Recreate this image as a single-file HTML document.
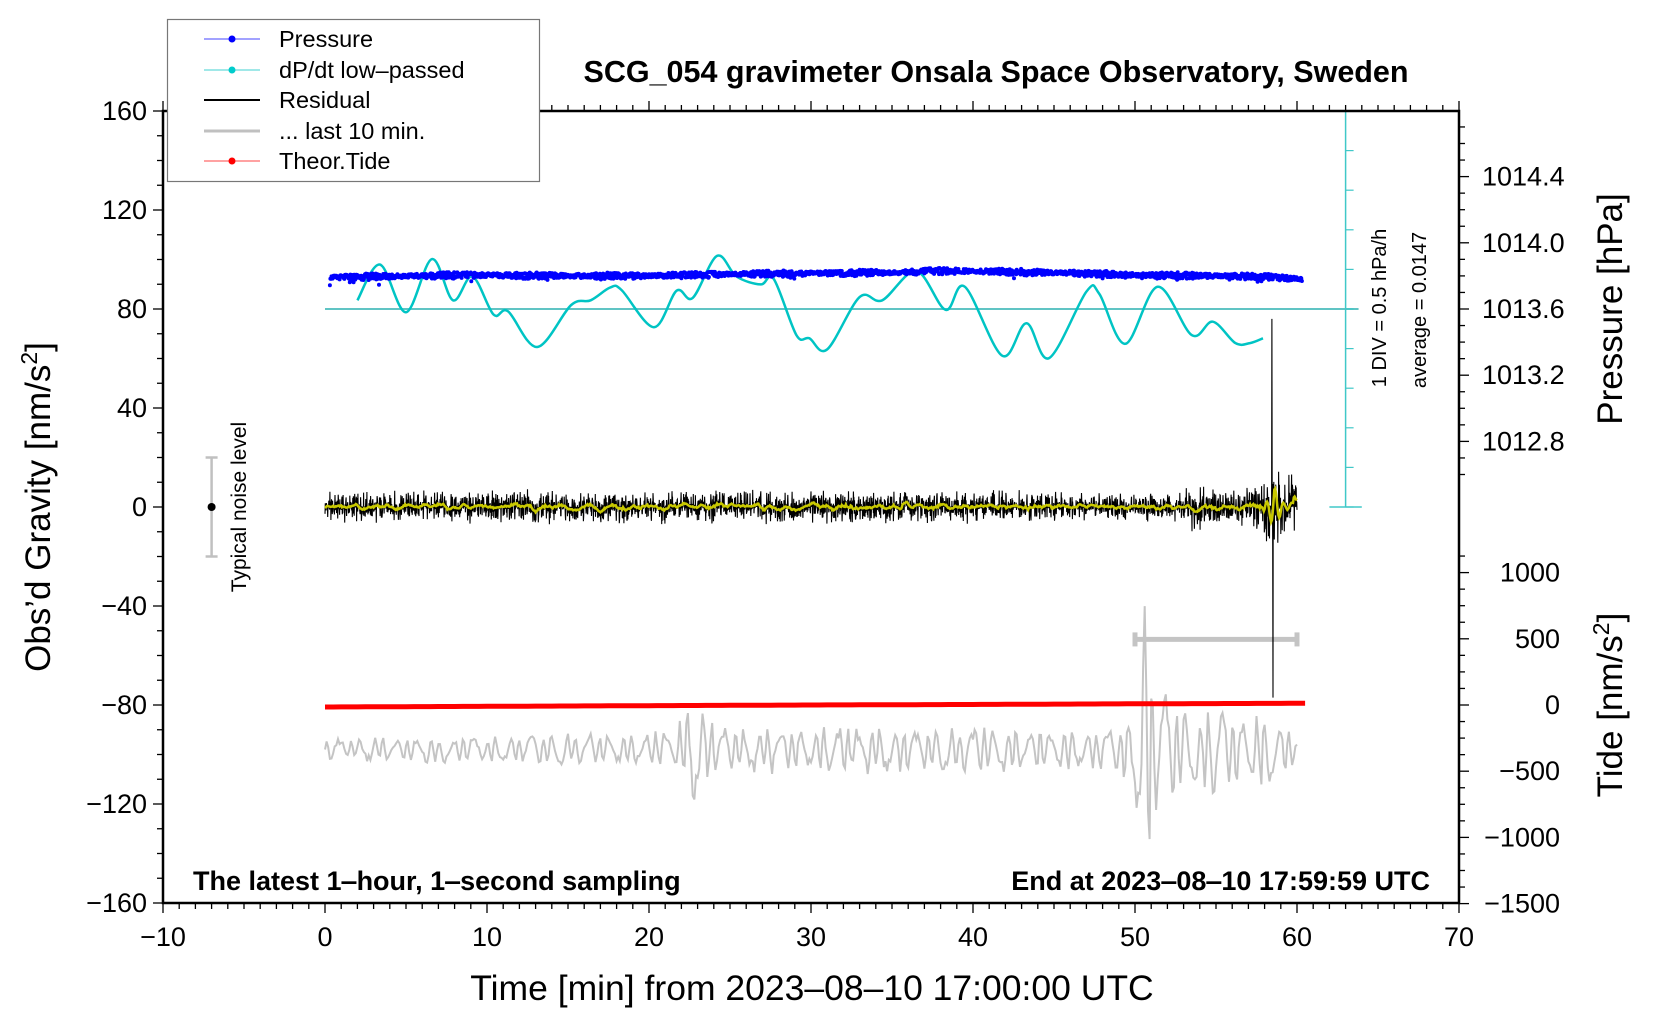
<!DOCTYPE html>
<html><head><meta charset="utf-8"><style>
html,body{margin:0;padding:0;background:#fff;}
svg{display:block;font-family:"Liberation Sans",Arial,sans-serif;}
</style></head><body>
<svg id="chart" width="1660" height="1020" viewBox="0 0 1660 1020" xmlns="http://www.w3.org/2000/svg">
<g id="data-layer"></g>
<g id="axes-layer"></g>
<text x="996" y="82" font-size="30.5" font-weight="bold" text-anchor="middle">SCG_054 gravimeter Onsala Space Observatory, Sweden</text>
<text x="193" y="890" font-size="27" font-weight="bold">The latest 1‒hour, 1‒second sampling</text>
<text x="1430" y="890" font-size="27" font-weight="bold" text-anchor="end">End at 2023‒08‒10 17:59:59 UTC</text>
<text x="812" y="1000" font-size="35.5" text-anchor="middle">Time [min] from 2023‒08‒10 17:00:00 UTC</text>
<text transform="translate(50,507) rotate(-90)" font-size="35" text-anchor="middle">Obs’d Gravity [nm/s<tspan font-size="23" dy="-13">2</tspan><tspan dy="13">]</tspan></text>
<text transform="translate(1622,309) rotate(-90)" font-size="35" text-anchor="middle">Pressure [hPa]</text>
<text transform="translate(1622,705) rotate(-90)" font-size="35" text-anchor="middle">Tide [nm/s<tspan font-size="23" dy="-13">2</tspan><tspan dy="13">]</tspan></text>
<text transform="translate(246,507) rotate(-90)" font-size="21" text-anchor="middle">Typical noise level</text>
<text transform="translate(1386,308) rotate(-90)" font-size="20" text-anchor="middle">1 DIV = 0.5 hPa/h</text>
<text transform="translate(1426,310) rotate(-90)" font-size="20" text-anchor="middle">average = 0.0147</text>
<g>
<rect x="167.5" y="19.5" width="372" height="162" fill="#fff" stroke="#777" stroke-width="1.2"/>
<g><line x1="204" y1="39" x2="260" y2="39" stroke="#4444ff" stroke-width="1"/><circle cx="232" cy="39" r="3.5" fill="#0000ff"/><text x="279" y="47" font-size="23.5">Pressure</text></g>
<g><line x1="204" y1="70" x2="260" y2="70" stroke="#40d0d0" stroke-width="1"/><circle cx="232" cy="70" r="3.5" fill="#00cccc"/><text x="279" y="78" font-size="23.5">dP/dt low‒passed</text></g>
<g><line x1="204" y1="100" x2="260" y2="100" stroke="#000" stroke-width="2"/><text x="279" y="108" font-size="23.5">Residual</text></g>
<g><line x1="204" y1="131" x2="260" y2="131" stroke="#c0c0c0" stroke-width="3"/><text x="279" y="139" font-size="23.5">... last 10 min.</text></g>
<g><line x1="204" y1="161" x2="260" y2="161" stroke="#ff4444" stroke-width="1"/><circle cx="232" cy="161" r="3.5" fill="#ff0000"/><text x="279" y="169" font-size="23.5">Theor.Tide</text></g>
</g>
</svg>
<script>
// ---- data arrays ----
const xTicks = [-10,0,10,20,30,40,50,60,70];
const yTicks = [160,120,80,40,0,-40,-80,-120,-160];
const pTicks = [1014.4,1014.0,1013.6,1013.2,1012.8];
const tideTicks = [1000,500,0,-500,-1000,-1500];
const cyanT = [2.0,3.4,5.0,6.6,7.9,9.1,10.4,11.3,13.1,15.2,16.4,17.6,18.3,20.3,21.7,22.7,24.2,25.4,26.9,27.7,29.1,29.9,31.0,33.0,34.4,36.5,38.3,39.5,41.8,43.3,44.7,47.0,47.8,49.4,51.4,53.5,54.8,56.2,57.1,57.9];
const cyanV = [0.11,0.56,-0.04,0.63,0.11,0.41,-0.07,-0.03,-0.48,0.05,0.11,0.27,0.24,-0.23,0.23,0.14,0.67,0.41,0.31,0.38,-0.33,-0.37,-0.51,0.15,0.11,0.48,-0.01,0.28,-0.59,-0.18,-0.62,0.22,0.19,-0.44,0.28,-0.33,-0.16,-0.43,-0.43,-0.37];
const presT = [0.3,5,10,15,20,25,30,35,38,42,45,50,55,58,60.3];
const presV = [1013.790,1013.800,1013.805,1013.800,1013.800,1013.810,1013.815,1013.820,1013.830,1013.825,1013.820,1013.805,1013.800,1013.795,1013.780];
const resT = [0,10,20,30,40,50,53,53.8,54.3,55,56,57,58,58.4,58.7,59.2,60];
const resAmp = [7,7.5,7.5,7.5,7.5,6,7,16,12,9,8,9,14,22,18,15,12];
const spikeT = [58.45,58.52];
const spikeV = [76,-77];
const grayT = [0,10,20,22,23,24,26,30,40,47,49,50.2,50.7,51.3,52.5,54,55.5,56.5,57.5,58.5,59.5,60];
const grayAmp = [5,6,7,12,24,12,10,10,10,9,12,30,80,30,24,14,26,14,18,17,10,6];
const tideT = [0,10,20,30,40,50,60.5];
const tideV = [-15,-10,-5,0,4,9,13];

// ---- axis functions ----
const X0=163,X1=1459,Y0=111,Y1=903;
const xs = t => X0 + (t+10)*(X1-X0)/80;
const ys = g => Y0 + (160-g)*(Y1-Y0)/320;
const yp = p => 309 - (p-1013.6)*165.5;
const yt = v => 705 - v*0.1324;
const ydp = v => ys(80 + v*32);
const NS='http://www.w3.org/2000/svg';
function interp(T,V,t){ if(t<=T[0])return V[0]; for(let i=1;i<T.length;i++){ if(t<=T[i]){const f=(t-T[i-1])/(T[i]-T[i-1]);return V[i-1]+f*(V[i]-V[i-1]);} } return V[V.length-1]; }
function noise(i,s){ const v=Math.sin(i*12.9898+s*78.233)*43758.5453; return (v-Math.floor(v))*2-1; } // texture only
function mk(tag,attrs,parent){ const e=document.createElementNS(NS,tag); for(const k in attrs)e.setAttribute(k,attrs[k]); parent.appendChild(e); return e; }
const D=document.getElementById('data-layer'), A=document.getElementById('axes-layer');

let el;
el=mk('line',{x1:xs(0),y1:ys(80),x2:xs(63.8),y2:ys(80),stroke:'#60c4c4','stroke-width':2},D);


el=mk('g',{},D);


mk('line',{x1:xs(63),y1:ys(160),x2:xs(63),y2:ys(0),stroke:'#40c8c8','stroke-width':1.5},el);
for(let k=0;k<=10;k++){ mk('line',{x1:xs(63),y1:ys(k*16),x2:xs(63)+8,y2:ys(k*16),stroke:'#40c8c8','stroke-width':1.2},el); }
mk('line',{x1:xs(62),y1:ys(0),x2:xs(64),y2:ys(0),stroke:'#40c8c8','stroke-width':1.5},el);

// gray last-10-min
let gp=''; for(let i=0;i<=600;i++){ const t=i*0.1; const a=interp(grayT,grayAmp,t); const ph=Math.sin(i*0.9+Math.sin(i*0.37)*1.5); const v=-98+a*ph*(0.7+0.3*noise(i,3)); gp+=(i?'L':'M')+xs(t).toFixed(1)+' '+ys(v).toFixed(1); }
el=mk('path',{d:gp,fill:'none',stroke:'#c4c4c4','stroke-width':2},D);



el=mk('g',{stroke:'#c4c4c4','stroke-width':5},D);


mk('line',{x1:xs(50),y1:ys(-53.5),x2:xs(60),y2:ys(-53.5)},el);
mk('line',{x1:xs(50),y1:ys(-53.5)-7,x2:xs(50),y2:ys(-53.5)+7},el);
mk('line',{x1:xs(60),y1:ys(-53.5)-7,x2:xs(60),y2:ys(-53.5)+7},el);

// tide
let tp=''; for(let i=0;i<=121;i++){ const t=i*0.5; tp+=(i?'L':'M')+xs(t).toFixed(1)+' '+yt(interp(tideT,tideV,t)).toFixed(1); }
el=mk('path',{d:tp,fill:'none',stroke:'#ff0000','stroke-width':5},D);



// residual
const res=[]; let rp='';
for(let i=0;i<=3600;i++){ const t=i/60; const n=noise(i,1); let v=interp(resT,resAmp,t)*n*Math.abs(n)*(0.5+0.5*Math.abs(noise(i,2)));
 for(let k=0;k<spikeT.length;k++){ if(Math.abs(t-spikeT[k])<0.009) v=spikeV[k]; }
 res.push(v); rp+=(i?'L':'M')+xs(t).toFixed(1)+' '+ys(v).toFixed(1); }
el=mk('path',{d:rp,fill:'none',stroke:'#000','stroke-width':1.1},D);


let yp2=''; const W=12;
for(let i=0;i<=3600;i+=3){ let s=0,n=0; for(let j=Math.max(0,i-W);j<=Math.min(3600,i+W);j++){ if(Math.abs(res[j])<40){s+=res[j];n++;} } let v=s/n*1.3; const t=i/60; if(t>58&&t<59.8) v=0.3*v+9*Math.sin((t-58)*12)*Math.exp(-Math.abs(t-58.6)*2.5); yp2+=(i?'L':'M')+xs(t).toFixed(1)+' '+ys(v).toFixed(1); }
el=mk('path',{d:yp2,fill:'none',stroke:'#c8c800','stroke-width':2.5},D);



// cyan dP/dt
let cp='M'+xs(cyanT[0]).toFixed(1)+' '+ydp(cyanV[0]).toFixed(1);
for(let i=0;i<cyanT.length-1;i++){ const p0=[xs(cyanT[Math.max(0,i-1)]),ydp(cyanV[Math.max(0,i-1)])],p1=[xs(cyanT[i]),ydp(cyanV[i])],p2=[xs(cyanT[i+1]),ydp(cyanV[i+1])],p3=[xs(cyanT[Math.min(cyanT.length-1,i+2)]),ydp(cyanV[Math.min(cyanT.length-1,i+2)])];
 const c1=[p1[0]+(p2[0]-p0[0])/6,p1[1]+(p2[1]-p0[1])/6],c2=[p2[0]-(p3[0]-p1[0])/6,p2[1]-(p3[1]-p1[1])/6];
 cp+='C'+c1[0].toFixed(1)+' '+c1[1].toFixed(1)+' '+c2[0].toFixed(1)+' '+c2[1].toFixed(1)+' '+p2[0].toFixed(1)+' '+p2[1].toFixed(1); }
el=mk('path',{d:cp,fill:'none',stroke:'#00c4c4','stroke-width':2.5},D);



// pressure dots
const pg=mk('g',{fill:'#0000ff'},D);


let pp='';
for(let i=0;i<=1800;i++){ const t=0.3+i/30; const loc=0.5+0.5*Math.abs(Math.sin(i*0.021)); let v=interp(presT,presV,t)+0.02*loc*noise(i,5); if(noise(i,6)>0.93) v-=0.025*(t<10?2:1)*Math.abs(noise(i,7));
 const x=xs(t),y=yp(v); pp+='M'+(x-2).toFixed(1)+' '+y.toFixed(1)+'a2 2 0 1 0 4 0a2 2 0 1 0 -4 0'; }
el=mk('path',{d:pp},pg);



el=mk('g',{},D);


mk('line',{x1:xs(-7),y1:ys(20),x2:xs(-7),y2:ys(-20),stroke:'#c0c0c0','stroke-width':2.5},el);
mk('line',{x1:xs(-7)-6,y1:ys(20),x2:xs(-7)+6,y2:ys(20),stroke:'#c0c0c0','stroke-width':2.5},el);
mk('line',{x1:xs(-7)-6,y1:ys(-20),x2:xs(-7)+6,y2:ys(-20),stroke:'#c0c0c0','stroke-width':2.5},el);
mk('circle',{cx:xs(-7),cy:ys(0),r:4,fill:'#000'},el);

// ---- axes ----
el=mk('rect',{x:X0,y:Y0,width:X1-X0,height:Y1-Y0,fill:'none',stroke:'#000','stroke-width':2.5},A);


const tk=mk('g',{stroke:'#000','stroke-width':1.3},A);


for(let m=-10;m<=70;m++){ const L=(m%10===0)?10:6; mk('line',{x1:xs(m),y1:Y1,x2:xs(m),y2:Y1+L},tk); mk('line',{x1:xs(m),y1:Y0,x2:xs(m),y2:Y0-L},tk); }
for(let g=-160;g<=160;g+=10){ const L=(g%40===0)?10:6; mk('line',{x1:X0,y1:ys(g),x2:X0-L,y2:ys(g)},tk); }
for(let p=1012.6;p<=1014.85;p+=0.1){ const y=yp(p); if(y<Y0-0.5||y>ys(0))continue; const maj=Math.abs(((p-1012.8)/0.4)-Math.round((p-1012.8)/0.4))<0.01; mk('line',{x1:X1,y1:y,x2:X1+(maj?10:6),y2:y},tk); }
for(let v=-1500;v<=1125;v+=125){ const y=yt(v); if(y<ys(-5))continue; mk('line',{x1:X1,y1:y,x2:X1+(v%500===0?10:6),y2:y},tk); }
const lab=mk('g',{'font-size':'27'},A);


xTicks.forEach(v=>{ el=mk('text',{x:xs(v),y:946,'text-anchor':'middle'},lab); el.textContent=String(v).replace('-','−');
 
  });
yTicks.forEach(v=>{ el=mk('text',{x:X0-16,y:ys(v)+9,'text-anchor':'end'},lab); el.textContent=String(v).replace('-','−');
 
  });
pTicks.forEach(v=>{ el=mk('text',{x:X1+23,y:yp(v)+9},lab); el.textContent=v.toFixed(1);
 
  });
tideTicks.forEach(v=>{ el=mk('text',{x:1560,y:yt(v)+9,'text-anchor':'end'},lab); el.textContent=String(v).replace('-','−');
 
  });
</script>
</body></html>
